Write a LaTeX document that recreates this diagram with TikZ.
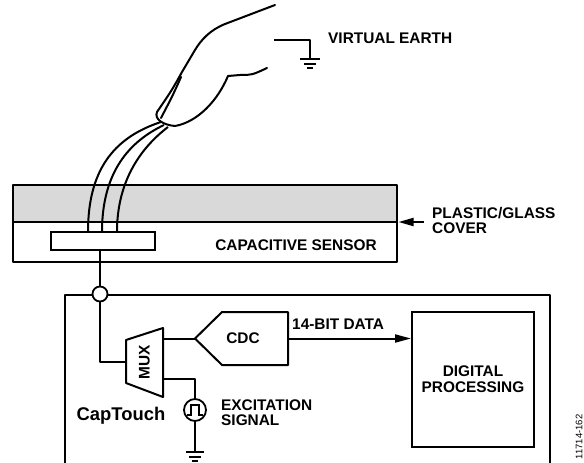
\documentclass[tikz,border=0pt]{standalone}
\usepackage{fontspec}
\setmainfont{Liberation Sans}
\usetikzlibrary{arrows.meta}
\begin{document}
\begin{tikzpicture}[x=1pt,y=-1pt,
  wire/.style={line width=2pt, line join=round},
  lbl/.style={font=\fontsize{15.4}{15}\selectfont\bfseries, inner sep=0pt, align=left},
  bigarrow/.style={-{Triangle[length=16pt,width=8pt]}},
  gndbars/.style={line width=2pt}]
\useasboundingbox (0,0) rectangle (584,463);

% ---- finger ----
\draw[wire, line cap=round]
  (275,5) -- (225,24) .. controls (210,30) and (201,40) .. (195,50)
  -- (182,72) .. controls (172,90) .. (157,112)
  .. controls (154,119) and (163,125) .. (175,126)
  .. controls (198,122) and (218,100) .. (228,76)
  -- (240,75) .. controls (252,75) .. (267,68);
\draw[wire, line cap=round] (181,77) .. controls (173,95) .. (161,118);

% ---- virtual earth ----
\coordinate (ve) at (274,40);
\coordinate (veg) at (310,59);
\draw[wire] (ve) -| (veg);
\draw[gndbars, shift={(veg)}] (-10,0) -- (10,0) (-6,4.5) -- (6,4.5) (-3,9) -- (3,9);
\node[lbl, anchor=west] (velbl) at (328,38) {VIRTUAL EARTH};

% ---- cover and sensor ----
\fill[gray!30] (13,185) rectangle (397,222);
\draw[wire] (13,185) rectangle (397,262);
\draw[wire] (13,222) -- (397,222);
\coordinate (coverR) at (398.5,222);
\coordinate (arrT) at (424,222);
\draw[line width=2pt, -{Triangle[length=15pt,width=8pt]}] (arrT) -- (coverR);
\node[lbl, anchor=west] (coverlbl) at (432,220.5) {PLASTIC/GLASS\\COVER};
\node[lbl] (senslbl) at (296,245) {CAPACITIVE SENSOR};

% wires from the fingertip down to the electrode
\coordinate (t1) at (161,122);
\coordinate (t2) at (164,125);
\coordinate (t3) at (168,127);
\coordinate (e1) at (88,232);
\coordinate (e2) at (102,232);
\coordinate (e3) at (117,232);
\draw[wire] (t1) .. controls (112,138) and (88,172) .. (e1);
\draw[wire] (t2) .. controls (124,144) and (102,178) .. (e2);
\draw[wire] (t3) .. controls (138,150) and (117,184) .. (e3);

\node[draw, line width=2pt, fill=white, minimum width=104pt, minimum height=18pt, inner sep=0pt] (elec) at (103,241) {};

% ---- CapTouch block ----
\draw[wire] (65,470) -- (65,295) -- (550,295) -- (550,470);
\node[circle, draw, line width=1.8pt, fill=white, minimum size=15pt, inner sep=0pt] (jn) at (100,294) {};
\draw[wire] (jn |- elec.south) -- (jn.north);

% multiplexer
\draw[wire, fill=white] (126,340) -- (163,328) -- (163,397) -- (126,383) -- cycle;
\node[lbl, rotate=90] (mux) at (144.5,362) {MUX};
\coordinate (muxL) at (126,362);
\coordinate (muxO) at (163,338.5);
\coordinate (muxE) at (163,379);
\draw[wire] (jn.south) |- (muxL);

% converter
\draw[wire] (195,338.5) -- (222,312) -- (288,312) -- (288,365) -- (222,365) -- cycle;
\coordinate (cdcIn) at (195,338.5);
\coordinate (cdcOut) at (288,338.5);
\node[lbl] (cdc) at (243,338.5) {CDC};
\draw[wire] (muxO) -- (cdcIn);

% digital processing
\node[draw, line width=2pt, minimum width=122pt, minimum height=135pt, inner sep=0pt,
      font=\fontsize{15.4}{16}\selectfont\bfseries, align=center] (dp) at (473,379.5)
      {DIGITAL\\PROCESSING};
\draw[line width=2pt, bigarrow] (cdcOut) -- (cdcOut -| dp.west);
\node[lbl, anchor=west] (datalbl) at (292,324) {14-BIT DATA};

% excitation source
\node[circle, draw, line width=1.8pt, minimum size=22pt, inner sep=0pt] (exc) at (195,410) {};
\draw[line width=1.6pt, shift={(exc.center)}] (-8,5) -- (-4,5) -- (-4,-5) -- (4,-5) -- (4,5) -- (8,5);
\draw[wire] (muxE) -| (exc.north);
\coordinate (gnd2) at (195,452);
\draw[wire] (exc.south) -- (gnd2);
\draw[gndbars, shift={(gnd2)}] (-9,0) -- (9,0) (-6,4.5) -- (6,4.5) (-3,9) -- (3,9);
\node[lbl, anchor=west] (exclbl) at (221,412.5) {EXCITATION\\SIGNAL};

\node[font=\fontsize{18.4}{19}\selectfont\bfseries, inner sep=0pt] (ct) at (121,416) {CapTouch};

\node[rotate=90, font=\fontsize{9.5}{10}\selectfont, inner sep=0pt] (fig) at (579,437) {11714-162};
\end{tikzpicture}
\end{document}
